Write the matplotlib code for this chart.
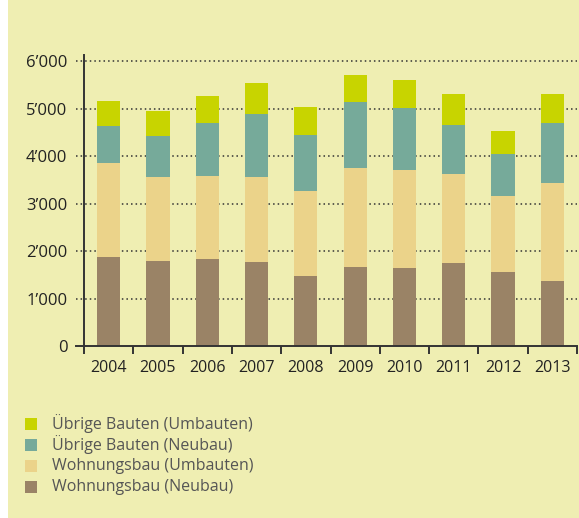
import numpy as np
import matplotlib
matplotlib.use("Agg")
import matplotlib.pyplot as plt
from matplotlib.patches import Rectangle

plt.rcParams['font.family'] = ['Open Sans', 'DejaVu Sans']

years = [2004, 2005, 2006, 2007, 2008, 2009, 2010, 2011, 2012, 2013]
# cumulative tops (in units)
top_wn = [1880, 1790, 1830, 1770, 1480, 1660, 1640, 1750, 1560, 1370]
top_wu = [3860, 3560, 3580, 3560, 3270, 3750, 3710, 3620, 3160, 3440]
top_bn = [4640, 4430, 4700, 4890, 4450, 5140, 5020, 4660, 4050, 4700]
top_bu = [5160, 4950, 5270, 5540, 5040, 5710, 5610, 5310, 4530, 5310]

series = {
    'Wohnungsbau (Neubau)': np.array(top_wn),
    'Wohnungsbau (Umbauten)': np.array(top_wu) - np.array(top_wn),
    'Übrige Bauten (Neubau)': np.array(top_bn) - np.array(top_wu),
    'Übrige Bauten (Umbauten)': np.array(top_bu) - np.array(top_bn),
}
colors = {
    'Wohnungsbau (Neubau)': '#9a8366',
    'Wohnungsbau (Umbauten)': '#ebd38a',
    'Übrige Bauten (Neubau)': '#76aa9a',
    'Übrige Bauten (Umbauten)': '#c8d400',
}

bg = '#efeeb2'
W, H = 579, 518
fig = plt.figure(figsize=(W / 100, H / 100), dpi=100, facecolor=bg)
fig.patches.append(Rectangle((0, 0), 8 / W, 1, transform=fig.transFigure,
                             facecolor='white', edgecolor='none', zorder=0))

ax = fig.add_axes([76 / W, 1 - 346 / H, (577 - 76) / W, (346 - 55) / H])
ax.set_facecolor('none')

x = np.arange(len(years)) + 0.5
bottom = np.zeros(len(years))
for name, vals in series.items():
    ax.bar(x, vals, width=0.47, bottom=bottom, color=colors[name], linewidth=0, zorder=3)
    bottom += vals

ax.set_xlim(-8 / 49.3, 10)
ax.set_ylim(0, 6130)

ax.spines['top'].set_visible(False)
ax.spines['right'].set_visible(False)
ax.spines['left'].set_position(('data', 0))
for s in ['left', 'bottom']:
    ax.spines[s].set_color('#333333')
    ax.spines[s].set_linewidth(1.4)
    ax.spines[s].set_zorder(4)

yt = [0, 1000, 2000, 3000, 4000, 5000, 6000]
ax.set_yticks(yt)
ax.set_yticklabels(['0' if v == 0 else f"{v // 1000}’000" for v in yt],
                   fontsize=12, color='#222222')
ax.tick_params(axis='y', length=0, pad=12)
for v in yt[1:]:
    ax.axhline(v, color='#333333', lw=1.1, ls=(0, (1, 2)), zorder=1)

ax.set_xticks(np.arange(0, 11))
ax.set_xticklabels([])
ax.tick_params(axis='x', which='major', direction='out', length=6, width=1.4, color='#333333')
ax.set_xticks(x, minor=True)
ax.set_xticklabels([str(y) for y in years], minor=True, fontsize=11.5, color='#222222')
ax.tick_params(axis='x', which='minor', length=0, pad=10)

# legend
names = list(series.keys())[::-1]
for i, name in enumerate(names):
    yc = 424 + 21 * i
    fig.patches.append(Rectangle((25 / W, 1 - (yc + 6) / H), 12 / W, 12 / H,
                                 transform=fig.transFigure,
                                 facecolor=colors[name], edgecolor='none'))
    fig.text(52 / W, 1 - yc / H, name, fontsize=11.5, color='#555555',
             va='center', ha='left')

fig.savefig('out.png', dpi=100, facecolor=bg)
